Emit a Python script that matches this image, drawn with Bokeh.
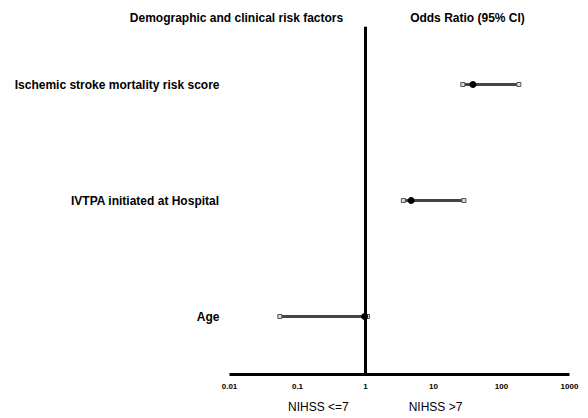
from bokeh.plotting import figure
from bokeh.models import (Span, LogAxis, FixedTicker, CustomJSTickFormatter, FactorRange)
from bokeh.embed import file_html
from bokeh.resources import INLINE

# ---- data ----
factors = ["Age", "IVTPA initiated at Hospital", "Ischemic stroke mortality risk score"]
odds_ratio = [0.97, 4.7, 38.0]
ci_low = [0.055, 3.6, 27.0]
ci_high = [1.07, 28.0, 180.0]
x_ticks = [0.01, 0.1, 1, 10, 100, 1000]
header_left = "Demographic and clinical risk factors"
header_right = "Odds Ratio (95% CI)"
side_left = "NIHSS <=7"
side_right = "NIHSS >7"

FONT = "Liberation Sans"

p = figure(width=580, height=416, output_backend="svg", toolbar_location=None,
           x_axis_type="log", x_range=(0.01, 1000),
           y_range=FactorRange(factors=factors, range_padding=0),
           min_border_left=229, min_border_right=11, min_border_top=26, min_border_bottom=42)
p.outline_line_color = None
p.xgrid.visible = False
p.ygrid.visible = False
p.background_fill_color = "white"
p.border_fill_color = "white"

def plain_axis(ax, size, style, standoff):
    ax.major_tick_line_color = None
    ax.minor_tick_line_color = None
    ax.major_tick_out = 0
    ax.major_tick_in = 0
    ax.minor_tick_out = 0
    ax.minor_tick_in = 0
    ax.major_label_standoff = standoff
    ax.major_label_text_font = FONT
    ax.major_label_text_font_style = style
    ax.major_label_text_font_size = size
    ax.major_label_text_color = "black"

# x axis (odds ratio scale)
xa = p.xaxis[0]
xa.ticker = FixedTicker(ticks=x_ticks, minor_ticks=[])
xa.formatter = CustomJSTickFormatter(code="return String(tick);")
xa.axis_line_width = 3
xa.axis_line_color = "black"
plain_axis(xa, "8px", "bold", 9)

# y axis (risk factors)
ya = p.yaxis[0]
ya.axis_line_color = None
plain_axis(ya, "12px", "bold", 10)

# column headers as an unlined axis above the frame (positions are layout only)
hdr_pos = {0.01268: header_left, 31.6: header_right}
top = LogAxis(ticker=FixedTicker(ticks=list(hdr_pos.keys()), minor_ticks=[]),
              formatter=CustomJSTickFormatter(args=dict(m={str(k): v for k, v in hdr_pos.items()}),
                                              code="return m[String(tick)];"),
              axis_line_color=None)
plain_axis(top, "12px", "bold", 2)
p.add_layout(top, "above")

# side captions as an unlined axis below the scale
side_pos = {0.203: side_left, 10.7: side_right}
bot = LogAxis(ticker=FixedTicker(ticks=list(side_pos.keys()), minor_ticks=[]),
              formatter=CustomJSTickFormatter(args=dict(m={str(k): v for k, v in side_pos.items()}),
                                              code="return m[String(tick)];"),
              axis_line_color=None)
plain_axis(bot, "12px", "normal", 8)
p.add_layout(bot, "below")

# reference line at OR = 1
p.add_layout(Span(location=1, dimension="height", line_color="black", line_width=3))

# confidence intervals
p.segment(x0=ci_low, y0=factors, x1=ci_high, y1=factors, line_color="#444444", line_width=3)
p.scatter(x=ci_low, y=factors, marker="square", size=4, fill_color="#dddddd",
          line_color="#555555", line_width=1)
p.scatter(x=ci_high, y=factors, marker="square", size=4, fill_color="#dddddd",
          line_color="#555555", line_width=1)
p.scatter(x=odds_ratio, y=factors, marker="circle", size=6, fill_color="black",
          line_color="black")

open("out.html", "w").write(file_html(p, INLINE))
